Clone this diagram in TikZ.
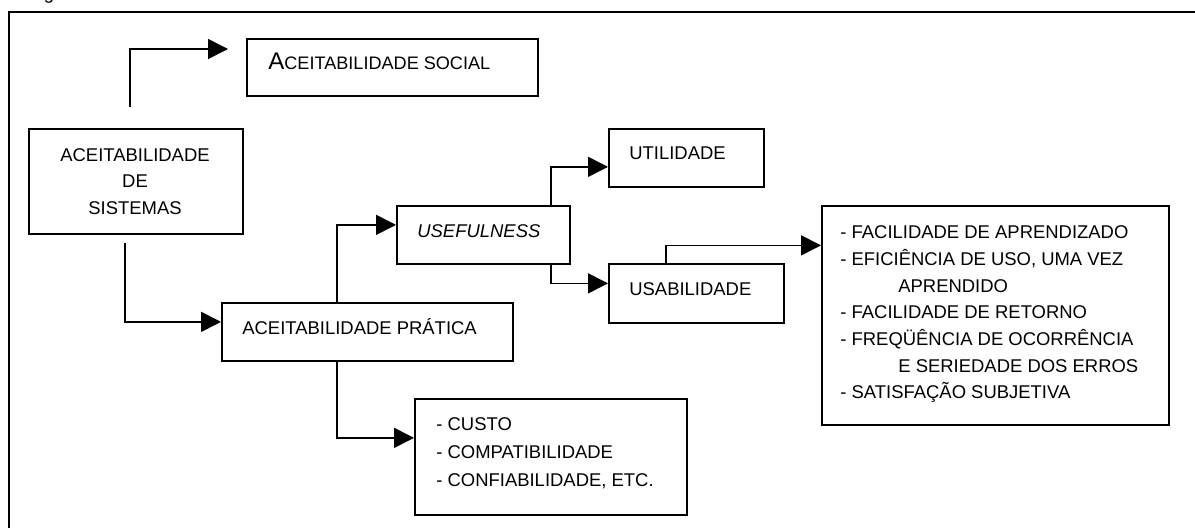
\documentclass[tikz,border=0pt]{standalone}
\usepackage{fontspec}
\setmainfont{Liberation Sans}
\usetikzlibrary{arrows.meta,calc}
\begin{document}
\begin{tikzpicture}[x=0.02cm,y=-0.02cm,
  box/.style={draw, line width=1pt, rectangle, inner sep=0pt, anchor=north west},
  conn/.style={line width=0.9pt, -{Triangle[length=0.4cm,width=0.4cm]}},
  txt/.style={anchor=base west, inner sep=0pt, font=\fontsize{10.5}{12}\selectfont},
  frameline/.style={line width=1.2pt}]
\useasboundingbox (0,0) rectangle (1195,527);
% outer frame (cut by the page edges)
\coordinate (fa) at (9,540);
\coordinate (fb) at (9,12);
\coordinate (fc) at (1210,12);
\draw[frameline] (fa) -- (fb) -- (fc);
\node[txt, anchor=base] (cap) at (49,0) {g};

% boxes
\node[box, minimum width=5.82cm, minimum height=1.14cm] (soc) at (246,38) {};
\node[box, minimum width=4.28cm, minimum height=2.10cm] (sis) at (28,128) {};
\node[box, minimum width=5.82cm, minimum height=1.16cm] (pra) at (221,302) {};
\node[box, minimum width=3.46cm, minimum height=1.16cm] (use) at (396,205) {};
\node[box, minimum width=3.10cm, minimum height=1.16cm] (uti) at (608,128) {};
\node[box, minimum width=3.50cm, minimum height=1.18cm] (usa) at (608,263) {};
\node[box, minimum width=6.94cm, minimum height=4.38cm] (lst) at (821,205) {};
\node[box, minimum width=5.44cm, minimum height=2.32cm] (cst) at (414,398) {};

% texts
\node[txt] (soct) at (268,70) {\fontsize{13.7}{14}\selectfont A\fontsize{10.3}{12}\selectfont CEITABILIDADE SOCIAL};
\node[txt, anchor=base] (sis1) at (135,161) {ACEITABILIDADE};
\node[txt, anchor=base] (sis2) at (135,187) {DE};
\node[txt, anchor=base] (sis3) at (135,214) {SISTEMAS};
\node[txt] (prat) at (242,334) {ACEITABILIDADE PRÁTICA};
\node[txt] (uset) at (417,237) {\itshape USEFULNESS};
\node[txt] (utit) at (629,159) {UTILIDADE};
\node[txt] (usat) at (629,295) {USABILIDADE};
\node[txt] (l1) at (840,238) {- FACILIDADE DE APRENDIZADO};
\node[txt] (l2) at (840,265) {- EFICIÊNCIA DE USO, UMA VEZ};
\node[txt] (l3) at (898,292) {APRENDIDO};
\node[txt] (l4) at (840,318) {- FACILIDADE DE RETORNO};
\node[txt] (l5) at (840,345) {- FREQÜÊNCIA DE OCORRÊNCIA};
\node[txt] (l6) at (898,372) {E SERIEDADE DOS ERROS};
\node[txt] (l7) at (840,398) {- SATISFAÇÃO SUBJETIVA};
\node[txt] (c1) at (436,430) {- CUSTO};
\node[txt] (c2) at (436,458) {- COMPATIBILIDADE};
\node[txt] (c3) at (436,486) {- CONFIABILIDADE, ETC.};

% connectors
\coordinate (s0) at (130,107);
\coordinate (s1) at (228,49);
\draw[conn] (s0) |- (s1);
\coordinate (p0) at (125,243);
\draw[conn] (p0) |- ($(pra.west)+(0,-10)$);
\draw[conn] ($(pra.north west)+(116,0)$) |- ($(use.west)+(0,-10)$);
\draw[conn] ($(use.north east)+(-20,0)$) |- ($(uti.west)+(0,9)$);
\draw[conn] ($(use.south east)+(-20,0)$) |- ($(usa.west)+(0,-10)$);
\draw[conn] ($(usa.north west)+(58,0)$) |- ($(lst.west)+(0,-70)$);
\draw[conn] ($(pra.south west)+(116,0)$) |- ($(cst.west)+(0,-19)$);
\end{tikzpicture}
\end{document}
